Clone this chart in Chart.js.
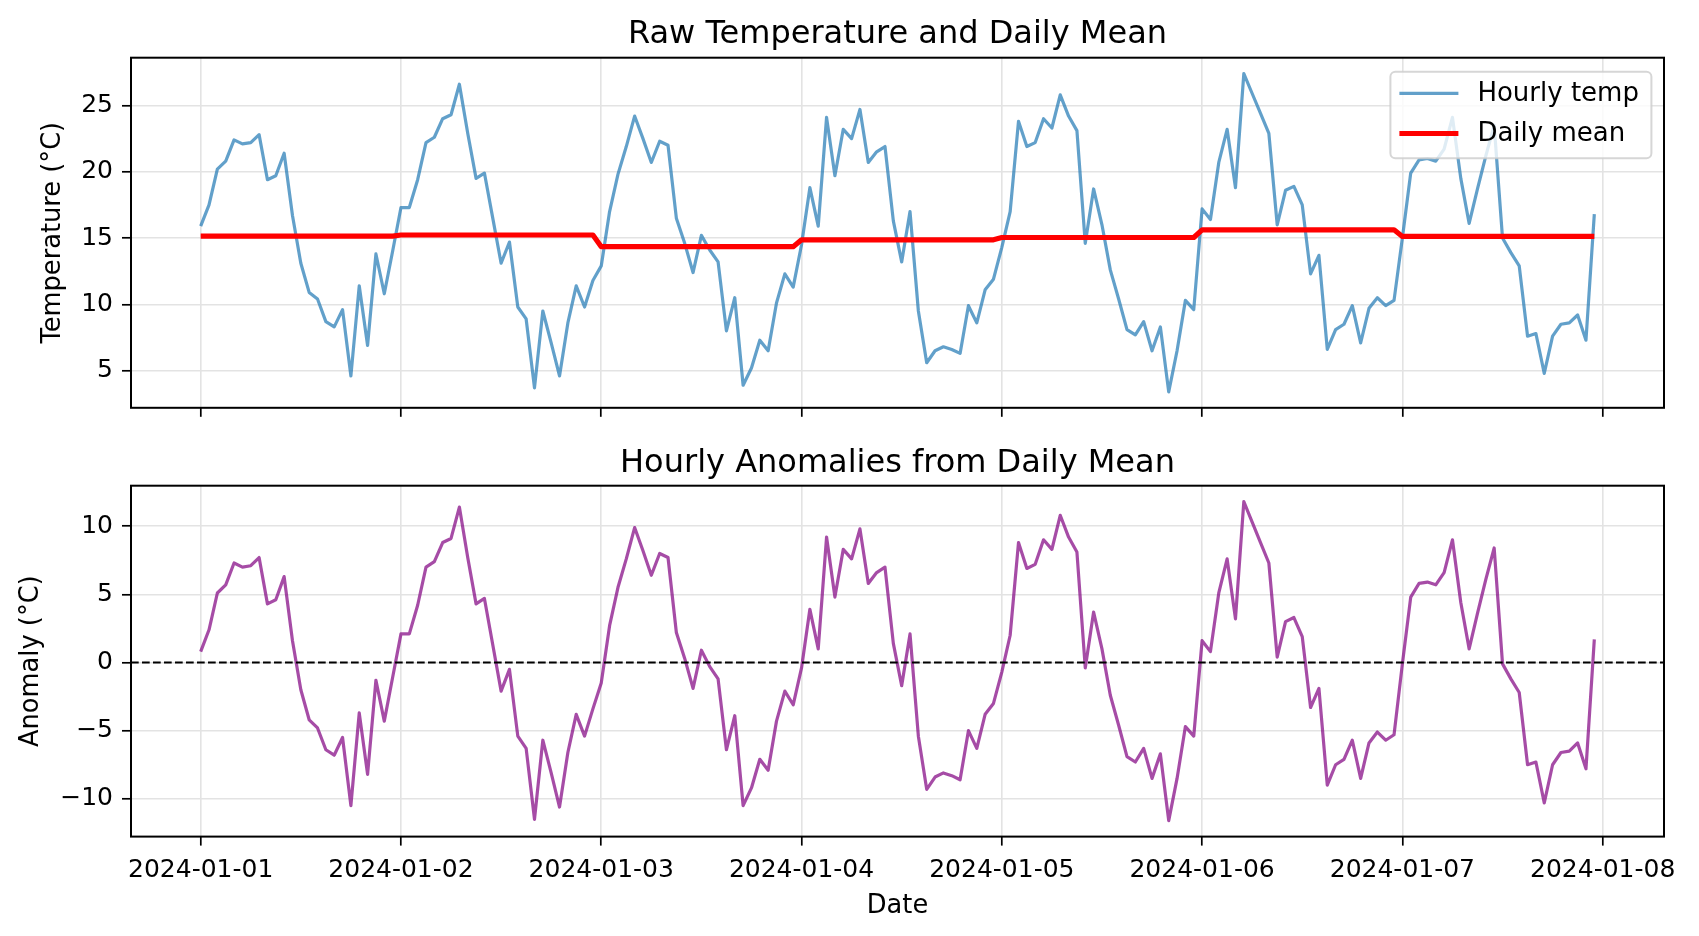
<!DOCTYPE html>
<html>
<head>
<meta charset="utf-8">
<script src="https://cdn.jsdelivr.net/npm/chart.js@4.4.1/dist/chart.umd.min.js"></script>
<style>
  body { margin: 0; background: #fff; }
  #wrap { position: relative; width: 1699px; height: 936px; }
  canvas { position: absolute; left: 0; }
</style>
</head>
<body>
<div id="wrap">
  <canvas id="tempChart" width="1699" height="440" style="top:0"></canvas>
  <canvas id="anomChart" width="1699" height="496" style="top:440px"></canvas>
</div>
<script>
// x axis: hours since 2024-01-01 00:00, one tick per day
const dayTicks = [0, 24, 48, 72, 96, 120, 144, 168];
const dayLabels = ["2024-01-01", "2024-01-02", "2024-01-03", "2024-01-04",
  "2024-01-05", "2024-01-06", "2024-01-07", "2024-01-08"];

const tempTicks = [5, 10, 15, 20, 25];
const anomalyTicks = [-10, -5, 0, 5, 10];

// hourly temperature (°C)
const temps = [
  15.9, 17.5, 20.2, 20.8, 22.4, 22.1, 22.2, 22.8, 19.4, 19.7, 21.4, 16.7,
  13.1, 10.9, 10.4, 8.7, 8.3, 9.6, 4.6, 11.4, 6.9, 13.8, 10.8, 14.0,
  17.3, 17.3, 19.4, 22.2, 22.6, 24.0, 24.3, 26.6, 22.9, 19.5, 19.9, 16.5,
  13.1, 14.7, 9.8, 8.9, 3.7, 9.5, 7.1, 4.6, 8.6, 11.4, 9.8, 11.8,
  12.9, 17.0, 19.8, 21.9, 24.2, 22.5, 20.7, 22.3, 22.0, 16.5, 14.6, 12.4,
  15.2, 14.1, 13.2, 8.0, 10.5, 3.9, 5.2, 7.3, 6.5, 10.1, 12.3, 11.3,
  14.5, 18.8, 15.9, 24.1, 19.7, 23.2, 22.5, 24.7, 20.7, 21.5, 21.9, 16.3,
  13.2, 17.0, 9.5, 5.6, 6.5, 6.8, 6.6, 6.3, 9.9, 8.6, 11.1, 11.9,
  14.3, 17.0, 23.8, 21.9, 22.2, 24.0, 23.3, 25.8, 24.2, 23.1, 14.6, 18.7,
  16.0, 12.6, 10.4, 8.1, 7.7, 8.7, 6.5, 8.3, 3.4, 6.5, 10.3, 9.6,
  17.2, 16.4, 20.7, 23.2, 18.8, 27.4, 25.9, 24.4, 22.9, 16.0, 18.6, 18.9,
  17.5, 12.3, 13.7, 6.6, 8.1, 8.5, 9.9, 7.1, 9.7, 10.5, 9.9, 10.3,
  15.0, 19.9, 20.9, 21.0, 20.8, 21.7, 24.1, 19.5, 16.1, 18.7, 21.2, 23.5,
  15.0, 13.9, 12.9, 7.6, 7.8, 4.8, 7.6, 8.5, 8.6, 9.2, 7.3, 16.8
];

// one mean per day
const dailyMean = [15.15, 15.23, 14.35, 14.87, 15.04, 15.62, 15.12];

// hourly anomaly from the daily mean (°C), bottom panel
const anomalies = [
  0.8, 2.4, 5.1, 5.7, 7.3, 7.0, 7.1, 7.7, 4.3, 4.6, 6.3, 1.6,
  -2.0, -4.2, -4.8, -6.4, -6.8, -5.5, -10.5, -3.7, -8.2, -1.3, -4.3, -1.1,
  2.1, 2.1, 4.2, 7.0, 7.4, 8.8, 9.1, 11.4, 7.7, 4.3, 4.7, 1.3,
  -2.1, -0.5, -5.4, -6.3, -11.5, -5.7, -8.1, -10.6, -6.6, -3.8, -5.4, -3.4,
  -1.5, 2.7, 5.5, 7.6, 9.9, 8.2, 6.4, 8.0, 7.7, 2.2, 0.3, -1.9,
  0.9, -0.3, -1.2, -6.4, -3.9, -10.5, -9.2, -7.1, -7.9, -4.3, -2.1, -3.1,
  -0.4, 3.9, 1.0, 9.2, 4.8, 8.3, 7.6, 9.8, 5.8, 6.6, 7.0, 1.4,
  -1.7, 2.1, -5.4, -9.3, -8.4, -8.1, -8.3, -8.6, -5.0, -6.3, -3.8, -3.0,
  -0.7, 2.0, 8.8, 6.9, 7.2, 9.0, 8.3, 10.8, 9.2, 8.1, -0.4, 3.7,
  1.0, -2.4, -4.6, -6.9, -7.3, -6.3, -8.5, -6.7, -11.6, -8.5, -4.7, -5.4,
  1.6, 0.8, 5.1, 7.6, 3.2, 11.8, 10.3, 8.8, 7.3, 0.4, 3.0, 3.3,
  1.9, -3.3, -1.9, -9.0, -7.5, -7.1, -5.7, -8.5, -5.9, -5.1, -5.7, -5.3,
  -0.1, 4.8, 5.8, 5.9, 5.7, 6.6, 9.0, 4.4, 1.0, 3.6, 6.1, 8.4,
  -0.1, -1.2, -2.2, -7.5, -7.3, -10.3, -7.5, -6.6, -6.5, -5.9, -7.8, 1.7
];
const baseline = 0;

const FONT = "DejaVu Sans";
Chart.defaults.font.family = FONT;
Chart.defaults.font.size = 25;
Chart.defaults.color = "#000";

const hourlyPts = temps.map((t, i) => ({ x: i, y: t }));
const meanPts = temps.map((t, i) => ({ x: i, y: dailyMean[Math.floor(i / 24)] }));
const anomPts = anomalies.map((a, i) => ({ x: i, y: a }));

const gridStyle = { color: "#e3e3e3", lineWidth: 1.6, tickColor: "#000", tickWidth: 1.7, tickLength: 9 };
const fmt = v => (v < 0 ? "\u2212" + Math.abs(v) : String(v));

function xAxis(showLabels, h) {
  return {
    type: "linear", min: -8.35, max: 175.35,
    afterBuildTicks: s => { s.ticks = dayTicks.map(v => ({ value: v })); },
    afterFit: s => { s.height = h; },
    grid: gridStyle,
    border: { display: false },
    ticks: { display: showLabels, padding: 10, maxRotation: 0, autoSkip: false,
      callback: v => dayLabels[Math.round(v / 24)] }
  };
}

function yAxis(min, max, ticks) {
  return {
    min: min, max: max,
    afterBuildTicks: s => { s.ticks = ticks.map(v => ({ value: v })); },
    afterFit: s => { s.width = 131; },
    grid: gridStyle,
    border: { display: false },
    ticks: { padding: 9, callback: v => fmt(v) }
  };
}

function decor(cfg) {
  return {
    id: "decor",
    afterDatasetsDraw(chart) {
      const { ctx, chartArea: a, scales } = chart;
      ctx.save();
      if (cfg.zero) {
        const y = scales.y.getPixelForValue(baseline);
        ctx.strokeStyle = "#000";
        ctx.lineWidth = 2.1;
        ctx.setLineDash([7.7, 3.3]);
        ctx.beginPath();
        ctx.moveTo(a.left, y);
        ctx.lineTo(a.right, y);
        ctx.stroke();
        ctx.setLineDash([]);
      }
      ctx.strokeStyle = "#000";
      ctx.lineWidth = 2;
      ctx.strokeRect(a.left, a.top, a.right - a.left, a.bottom - a.top);

      if (cfg.legend) {
        const w = 261, h = 86.6, x = a.right - 12.6 - w, y = a.top + 14;
        ctx.beginPath();
        ctx.roundRect(x, y, w, h, 5);
        ctx.fillStyle = "rgba(255,255,255,0.8)";
        ctx.fill();
        ctx.strokeStyle = "rgba(204,204,204,0.8)";
        ctx.lineWidth = 2;
        ctx.stroke();
        const items = chart.data.datasets;
        const rows = [y + 21.6, y + 61.8];
        items.forEach((ds, i) => {
          ctx.strokeStyle = ds.borderColor;
          ctx.lineWidth = ds.borderWidth;
          ctx.beginPath();
          ctx.moveTo(x + 9, rows[i]);
          ctx.lineTo(x + 68, rows[i]);
          ctx.stroke();
          ctx.fillStyle = "#000";
          ctx.font = "26px " + FONT;
          ctx.textAlign = "left";
          ctx.textBaseline = "middle";
          ctx.fillText(ds.label, x + 87, rows[i] + 1);
        });
      }
      ctx.restore();
    },
    afterDraw(chart) {
      const { ctx, chartArea: a } = chart;
      const cx = (a.left + a.right) / 2;
      ctx.save();
      ctx.fillStyle = "#000";
      ctx.font = "32px " + FONT;
      ctx.textAlign = "center";
      ctx.textBaseline = "alphabetic";
      ctx.fillText(cfg.title, cx, a.top - cfg.titleGap);
      ctx.font = "25.7px " + FONT;
      ctx.textBaseline = "middle";
      if (cfg.xlabel) ctx.fillText(cfg.xlabel, cx, cfg.xlabelY);
      ctx.translate(cfg.ylabelX, (a.top + a.bottom) / 2);
      ctx.rotate(-Math.PI / 2);
      ctx.fillText(cfg.ylabel, 0, 0);
      ctx.restore();
    }
  };
}

new Chart(document.getElementById("tempChart"), {
  type: "line",
  data: {
    datasets: [
      { label: "Hourly temp", data: hourlyPts, borderColor: "rgba(31,119,180,0.7)",
        borderWidth: 3.2, pointRadius: 0, order: 2, borderJoinStyle: "round" },
      { label: "Daily mean", data: meanPts, borderColor: "#ff0000",
        borderWidth: 5.2, pointRadius: 0, order: 1, borderJoinStyle: "round" }
    ]
  },
  options: {
    responsive: false, animation: false, devicePixelRatio: 1,
    layout: { padding: { top: 57.7, right: 35, left: 0, bottom: 0 } },
    plugins: { legend: { display: false }, tooltip: { enabled: false } },
    scales: { x: xAxis(false, 32.2), y: yAxis(2.2, 28.6, tempTicks) }
  },
  plugins: [decor({ title: "Raw Temperature and Daily Mean", ylabel: "Temperature (°C)",
    ylabelX: 53, legend: true, titleGap: 14.5 })]
});

new Chart(document.getElementById("anomChart"), {
  type: "line",
  data: {
    datasets: [
      { label: "Anomaly", data: anomPts, borderColor: "rgba(128,0,128,0.7)",
        borderWidth: 3.2, pointRadius: 0, borderJoinStyle: "round" }
    ]
  },
  options: {
    responsive: false, animation: false, devicePixelRatio: 1,
    layout: { padding: { top: 45.7, right: 35, left: 0, bottom: 0 } },
    plugins: { legend: { display: false }, tooltip: { enabled: false } },
    scales: { x: xAxis(true, 99.4), y: yAxis(-12.77, 12.97, anomalyTicks) }
  },
  plugins: [decor({ title: "Hourly Anomalies from Daily Mean", ylabel: "Anomaly (°C)",
    ylabelX: 31.5, xlabel: "Date", xlabelY: 466, zero: true, titleGap: 13.5 })]
});
</script>
</body>
</html>
